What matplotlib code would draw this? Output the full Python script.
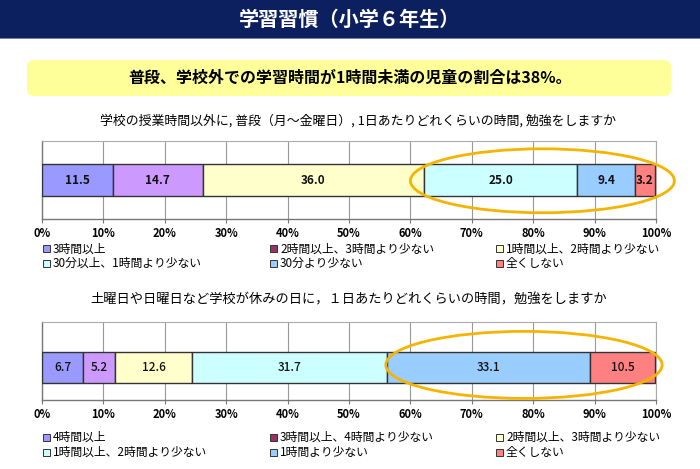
import matplotlib
matplotlib.use("Agg")
import matplotlib.pyplot as plt
from matplotlib.patches import Rectangle, FancyBboxPatch, Ellipse

plt.rcParams['font.family'] = ['Noto Sans CJK JP', 'DejaVu Sans']

title = "学習習慣（小学６年生）"
headline = "普段、学校外での学習時間が1時間未満の児童の割合は38%。"

q1 = "学校の授業時間以外に, 普段（月～金曜日）, 1日あたりどれくらいの時間, 勉強をしますか"
cats1 = ["3時間以上", "2時間以上、3時間より少ない", "1時間以上、2時間より少ない",
         "30分以上、1時間より少ない", "30分より少ない", "全くしない"]
vals1 = [11.5, 14.7, 36.0, 25.0, 9.4, 3.2]

q2 = "土曜日や日曜日など学校が休みの日に，１日あたりどれくらいの時間，勉強をしますか"
cats2 = ["4時間以上", "3時間以上、4時間より少ない", "2時間以上、3時間より少ない",
         "1時間以上、2時間より少ない", "1時間より少ない", "全くしない"]
vals2 = [6.7, 5.2, 12.6, 31.7, 33.1, 10.5]

xticks = [0, 10, 20, 30, 40, 50, 60, 70, 80, 90, 100]
xticklabels = [f"{t}%" for t in xticks]

bar_colors = ["#9999FF", "#CC99FF", "#FFFFCC", "#CCFFFF", "#99CCFF", "#FF8080"]
legend_colors = ["#9999FF", "#993366", "#FFFFCC", "#CCFFFF", "#99CCFF", "#FF8080"]

W, H = 700, 469
fig = plt.figure(figsize=(7, 4.69), dpi=100)


def fx(px):
    return px / W


def fy(py):
    return 1 - py / H


# Banner
fig.patches.append(Rectangle((0, fy(38)), 1, 38 / H, transform=fig.transFigure,
                             facecolor="#0C1F5E", edgecolor="none", zorder=0))
fig.patches.append(Rectangle((0, fy(39.5)), 1, 1.5 / H, transform=fig.transFigure,
                             facecolor="#6F7FA8", edgecolor="none", zorder=0))
fig.text(0.5, fy(19), title, color="white", fontsize=14.5, fontweight="bold",
         ha="center", va="center")

# Yellow headline box
fig.patches.append(FancyBboxPatch((fx(27), fy(96)), fx(671) - fx(27), (96 - 60) / H,
                                  boxstyle="round,pad=0,rounding_size=0.012",
                                  transform=fig.transFigure, facecolor="#FFFF99",
                                  edgecolor="none", zorder=0))
fig.text(0.5, fy(78), headline, color="black", fontsize=11.5, fontweight="bold",
         ha="center", va="center")


def draw_chart(top_px, bot_px, bar_c, bar_h, question, q_y, q_x, q_fs, vals, cats,
               legend_rows, legend_cols, ell, label_weight):
    ax = fig.add_axes([fx(42), fy(bot_px), fx(656) - fx(42), (bot_px - top_px) / H])
    ax.set_xlim(0, 100)
    ax.set_ylim(0, 1)
    left = 0
    for v, c in zip(vals, bar_colors):
        ax.barh(bar_c, v, left=left, height=bar_h, color=c, edgecolor="#333333",
                linewidth=1.0, zorder=3)
        ax.text(left + v / 2, bar_c, f"{v:.1f}", ha="center", va="center",
                fontsize=8.5, fontweight=label_weight, color="#111111", zorder=4)
        left += v
    ax.set_xticks(xticks)
    ax.set_xticklabels(xticklabels, fontsize=8, fontweight="bold")
    ax.set_yticks([])
    ax.grid(axis="x", color="#999999", linewidth=0.8, zorder=0)
    for s in ["top", "right"]:
        ax.spines[s].set_color("#AAAAAA")
        ax.spines[s].set_linewidth(0.8)
    for s in ["left", "bottom"]:
        ax.spines[s].set_color("#777777")
        ax.spines[s].set_linewidth(1.0)
    ax.tick_params(axis="x", length=3, width=0.8, color="#777777", pad=3)
    # ellipse highlight
    cx, cy, ew, eh = ell
    e = Ellipse((cx, cy), ew, eh, transform=ax.get_xaxis_transform(), fill=False,
                edgecolor="#F5B400", linewidth=2.0, clip_on=False, zorder=5)
    ax.add_patch(e)
    fig.text(fx(q_x), fy(q_y), question, fontsize=q_fs, ha="center", va="center")
    # legend (row-major)
    for i, (cat, col) in enumerate(zip(cats, legend_colors)):
        r, k = divmod(i, 3)
        x0 = legend_cols[k]
        y0 = legend_rows[r]
        fig.patches.append(Rectangle((fx(x0), fy(y0 + 3.5)), 7 / W, 7 / H,
                                     transform=fig.transFigure, facecolor=col,
                                     edgecolor="#333333", linewidth=0.7))
        fig.text(fx(x0 + 10), fy(y0), cat, fontsize=8.5, ha="left", va="center")
    return ax


draw_chart(141, 219, 0.5, 0.4, q1, 121, 358, 9.3, vals1, cats1,
           [249, 263], [43, 270, 496], (81.5, 0.49, 43.0, 0.82), "bold")
draw_chart(322, 400, 0.42, 0.4, q2, 300, 349, 9.5, vals2, cats2,
           [437, 452], [43, 270, 496], (78.5, 0.45, 45.0, 0.86), "medium")

fig.savefig("out.png", dpi=100)
